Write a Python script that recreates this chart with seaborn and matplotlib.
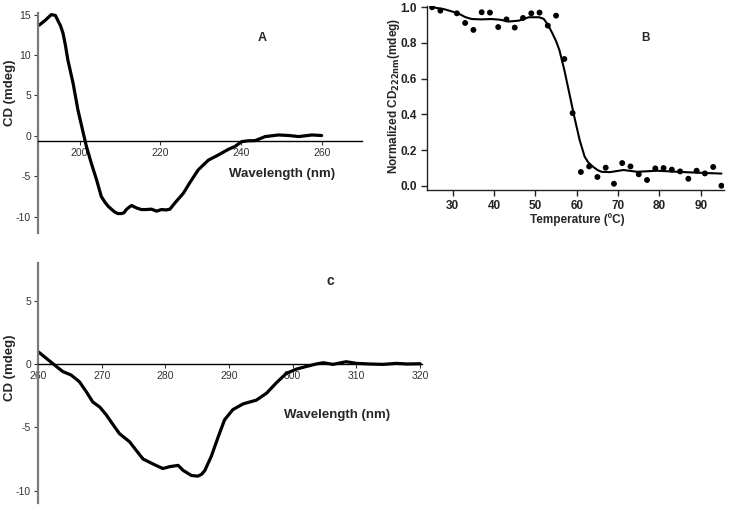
import matplotlib
matplotlib.use('Agg')
import matplotlib.pyplot as plt
import numpy as np
import seaborn as sns

# ---- panel A : far-UV CD spectrum ----
wl_a = [190.0, 191.5, 193.0, 194.0, 194.6, 195.3, 195.9, 196.5, 197.1, 198.4, 199.6,
        200.9, 201.7, 202.9, 204.2, 205.4, 206.3, 207.1, 208.0, 208.7, 209.5, 210.4,
        211.0, 211.6, 212.3, 212.9, 214.1, 215.3, 216.5, 217.8, 219.1, 220.3, 221.5,
        222.4, 223.6, 225.7, 227.3, 229.4, 231.9, 234.4, 236.9, 238.5, 240.2, 241.8,
        243.5, 246.0, 249.3, 252.0, 254.3, 257.6, 260.0]
cd_a = [13.7, 14.3, 15.0, 14.9, 14.3, 13.6, 12.7, 11.2, 9.4, 6.5, 3.2,
        0.4, -1.3, -3.35, -5.4, -7.5, -8.2, -8.7, -9.1, -9.4, -9.6, -9.6,
        -9.5, -9.1, -8.8, -8.6, -8.9, -9.1, -9.1, -9.05, -9.3, -9.1, -9.15,
        -9.05, -8.3, -7.1, -5.8, -4.2, -3.0, -2.35, -1.65, -1.3, -0.7, -0.6,
        -0.58, -0.08, 0.12, 0.05, -0.08, 0.12, 0.05]

# ---- panel B : thermal melt ----
temp_b = [25, 27, 31, 33, 35, 37, 39, 41, 43, 45, 47, 49, 51, 53, 55, 57, 59, 61,
          63, 65, 67, 69, 71, 73, 75, 77, 79, 81, 83, 85, 87, 89, 91, 93, 95]
norm_b = [1.0, 0.981, 0.966, 0.912, 0.873, 0.972, 0.970, 0.889, 0.932, 0.886, 0.940,
          0.966, 0.970, 0.897, 0.953, 0.710, 0.407, 0.077, 0.108, 0.049, 0.101, 0.011,
          0.127, 0.108, 0.064, 0.032, 0.097, 0.099, 0.090, 0.080, 0.039, 0.084, 0.069,
          0.105, 0.0]
fit_t = [25, 27.8, 31.3, 33.0, 34.6, 37.0, 39.4, 41.5, 43.5, 46.0, 48.4, 50.9, 52.0,
         52.5, 53.3, 54.1, 55.0, 55.8, 57.0, 58.2, 59.4, 60.7, 61.9, 62.8, 63.9, 65.0,
         66.0, 68.0, 71.3, 74.6, 79.4, 84.3, 89.2, 95]
fit_y = [1.0, 0.99, 0.966, 0.945, 0.934, 0.932, 0.934, 0.93, 0.92, 0.925, 0.944, 0.944,
         0.935, 0.919, 0.89, 0.854, 0.81, 0.760, 0.648, 0.518, 0.387, 0.256, 0.163, 0.13,
         0.107, 0.088, 0.078, 0.076, 0.088, 0.078, 0.084, 0.078, 0.073, 0.068]

# ---- panel C : near-UV CD spectrum ----
wl_c = [260.0, 261.3, 262.6, 263.9, 265.2, 266.5, 267.6, 268.6, 269.7, 270.7, 271.8,
        272.8, 274.4, 275.4, 276.5, 278.1, 279.6, 280.7, 282.0, 282.8, 284.1, 285.1,
        285.7, 286.2, 287.2, 288.3, 289.3, 290.6, 292.2, 294.3, 295.9, 297.4, 299.0,
        300.6, 302.1, 303.7, 304.8, 306.3, 308.4, 310.0, 312.1, 314.2, 316.3, 318.0, 320.0]
cd_c = [0.98, 0.45, -0.08, -0.6, -0.87, -1.4, -2.2, -3.0, -3.4, -4.0, -4.8,
        -5.5, -6.15, -6.8, -7.5, -7.9, -8.25, -8.1, -8.0, -8.4, -8.8, -8.85,
        -8.7, -8.4, -7.3, -5.75, -4.4, -3.6, -3.15, -2.85, -2.3, -1.5, -0.74,
        -0.4, -0.2, 0.0, 0.1, -0.03, 0.18, 0.05, 0.0, -0.03, 0.05, 0.0, 0.02]

sns.set_style('ticks')
plt.rcParams['font.family'] = ['Liberation Sans', 'DejaVu Sans']
plt.rcParams['axes.unicode_minus'] = False

W, H = 730, 514
fig = plt.figure(figsize=(W / 100, H / 100), dpi=100)

def pix_axes(l, t, r, b):
    return fig.add_axes([l / W, 1 - b / H, (r - l) / W, (b - t) / H])

def cd_style(ax, zero_at):
    for s in ['top', 'right']:
        ax.spines[s].set_visible(False)
    ax.spines['left'].set_color('#7a7a7a')
    ax.spines['left'].set_linewidth(1.6)
    ax.spines['bottom'].set_position(('data', zero_at))
    ax.spines['bottom'].set_color('black')
    ax.spines['bottom'].set_linewidth(1.0)
    ax.tick_params(axis='both', labelsize=7.5, labelcolor='#333333', length=3, width=0.8,
                   colors='#333333', pad=2)
    ax.set_xlabel('')
    ax.set_ylabel('')

# panel A
axA = pix_axes(38, 13, 362, 233)
sns.lineplot(x=wl_a, y=cd_a, ax=axA, color='black', linewidth=2.3, sort=False,
             solid_joinstyle='round')
axA.set_xlim(189.7, 270)
axA.set_ylim(-12.0, 15.2)
axA.set_xticks([200, 220, 240, 260])
axA.set_yticks([-10, -5, 0, 5, 10, 15])
cd_style(axA, -0.6)
fig.text(10 / W, 1 - 93 / H, 'CD (mdeg)', rotation=90, ha='center', va='center',
         fontsize=9.5, fontweight='bold')
fig.text(282 / W, 1 - 174 / H, 'Wavelength (nm)', ha='center', va='center',
         fontsize=9.5, fontweight='bold')
fig.text(262 / W, 1 - 38 / H, 'A', ha='center', va='center', fontsize=9, fontweight='bold')

# panel B
axB = pix_axes(426.7, 6, 723.5, 190)
sns.lineplot(x=fit_t, y=fit_y, ax=axB, color='black', linewidth=1.5, sort=False,
             solid_joinstyle='round')
sns.scatterplot(x=temp_b, y=norm_b, ax=axB, color='black', s=18, edgecolor='none')
axB.set_xlim(23.7, 95.5)
axB.set_ylim(-0.024, 1.007)
axB.set_xticks([30, 40, 50, 60, 70, 80, 90])
axB.set_yticks([0.0, 0.2, 0.4, 0.6, 0.8, 1.0])
axB.yaxis.set_major_formatter(matplotlib.ticker.FormatStrFormatter('%.1f'))
for s in ['top', 'right']:
    axB.spines[s].set_visible(False)
for s in ['left', 'bottom']:
    axB.spines[s].set_linewidth(1.0)
    axB.spines[s].set_color('#222222')
axB.tick_params(axis='both', labelsize=8.5, length=4, width=1.0, pad=3, colors='#222222')
for lab in axB.get_xticklabels() + axB.get_yticklabels():
    lab.set_fontweight('bold')
axB.set_xlabel('')
axB.set_ylabel('')
fig.text(577 / W, 1 - 220 / H, 'Temperature (ºC)', ha='center', va='center',
         fontsize=8.5, fontweight='bold')
fig.text(394 / W, 1 - 96 / H, 'Normalized CD$_{\\mathbf{222nm}}$(mdeg)', rotation=90,
         ha='center', va='center', fontsize=8.5, fontweight='bold')
fig.text(645 / W, 1 - 38 / H, 'B', ha='center', va='center', fontsize=8.5, fontweight='bold')

# panel C
axC = pix_axes(38, 263, 422, 503)
sns.lineplot(x=wl_c, y=cd_c, ax=axC, color='black', linewidth=2.3, sort=False,
             solid_joinstyle='round')
axC.set_xlim(260, 320.3)
axC.set_ylim(-10.97, 7.97)
axC.set_xticks([260, 270, 280, 290, 300, 310, 320])
axC.set_yticks([-10, -5, 0, 5])
cd_style(axC, 0)
fig.text(10 / W, 1 - 368 / H, 'CD (mdeg)', rotation=90, ha='center', va='center',
         fontsize=9.5, fontweight='bold')
fig.text(337 / W, 1 - 415 / H, 'Wavelength (nm)', ha='center', va='center',
         fontsize=9.5, fontweight='bold')
fig.text(330 / W, 1 - 281 / H, 'c', ha='center', va='center', fontsize=10, fontweight='bold')

fig.savefig('out.png', dpi=100)
